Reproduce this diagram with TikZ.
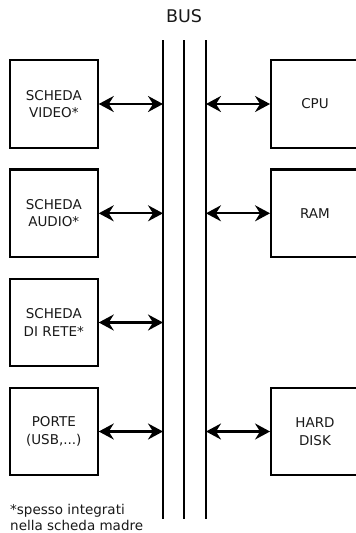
\documentclass[tikz,border=0pt]{standalone}
\usepackage{fontspec}
\setmainfont{DejaVu Sans}
\usetikzlibrary{arrows.meta}
\begin{document}
\begin{tikzpicture}[x=1pt,y=-1pt,
  box/.style={draw=black, line width=2.2pt, minimum width=87.7pt, minimum height=87.5pt,
    align=center, inner sep=0pt, font=\fontsize{13.5}{17.5}\selectfont, text=black!90},
  busline/.style={line width=2.2pt},
  tip/.style={},
  link/.style={line width=2.2pt, {Stealth[length=15pt,width=16pt,inset=5pt]}-{Stealth[length=15pt,width=16pt,inset=5pt]}}
  ]
\useasboundingbox (0,0) rectangle (356,533);
\clip (0,0) rectangle (356,533);
\node[font=\fontsize{17.5}{20}\selectfont, text=black!90, inner sep=0pt, anchor=base] (bus) at (184,22.7) {BUS};
% bus lines
\coordinate (l1t) at (163,40); \coordinate (l1b) at (163,519);
\coordinate (l2t) at (184,40); \coordinate (l2b) at (184,519);
\coordinate (l3t) at (206,40); \coordinate (l3b) at (206,519);
\draw[busline] (l1t) -- (l1b);
\draw[busline] (l2t) -- (l2b);
\draw[busline] (l3t) -- (l3b);
% left boxes
\node[box] (video) at (53.8,104) {SCHEDA\\VIDEO*};
\node[box] (audio) at (53.8,213.3) {SCHEDA\\AUDIO*};
\node[box] (rete) at (53.8,322.5) {SCHEDA\\DI RETE*};
\node[box] (porte) at (53.8,431.5) {PORTE\\(USB,...)};
% right boxes
\node[box] (cpu) at (315,104) {CPU};
\node[box] (ram) at (315,213.3) {RAM};
\node[box] (hd) at (315,431.5) {HARD\\DISK};
% bus attachment points
\coordinate (bv) at (163,104);
\coordinate (ba) at (163,213.3);
\coordinate (br) at (163,322.5);
\coordinate (bp) at (163,431.5);
\coordinate (bc) at (206,104);
\coordinate (bm) at (206,213.3);
\coordinate (bh) at (206,431.5);
\draw[link] (video.east) -- (bv);
\draw[link] (audio.east) -- (ba);
\draw[link] (rete.east) -- (br);
\draw[link] (porte.east) -- (bp);
\draw[link] (bc) -- (cpu.west);
\draw[link] (bm) -- (ram.west);
\draw[link] (bh) -- (hd.west);
% footnote
\node[anchor=north west, inner sep=0pt, align=left, text=black!90,
  font=\fontsize{13.5}{15.5}\selectfont] (note) at (10,504.5) {*spesso integrati\\nella scheda madre};
\end{tikzpicture}
\end{document}
